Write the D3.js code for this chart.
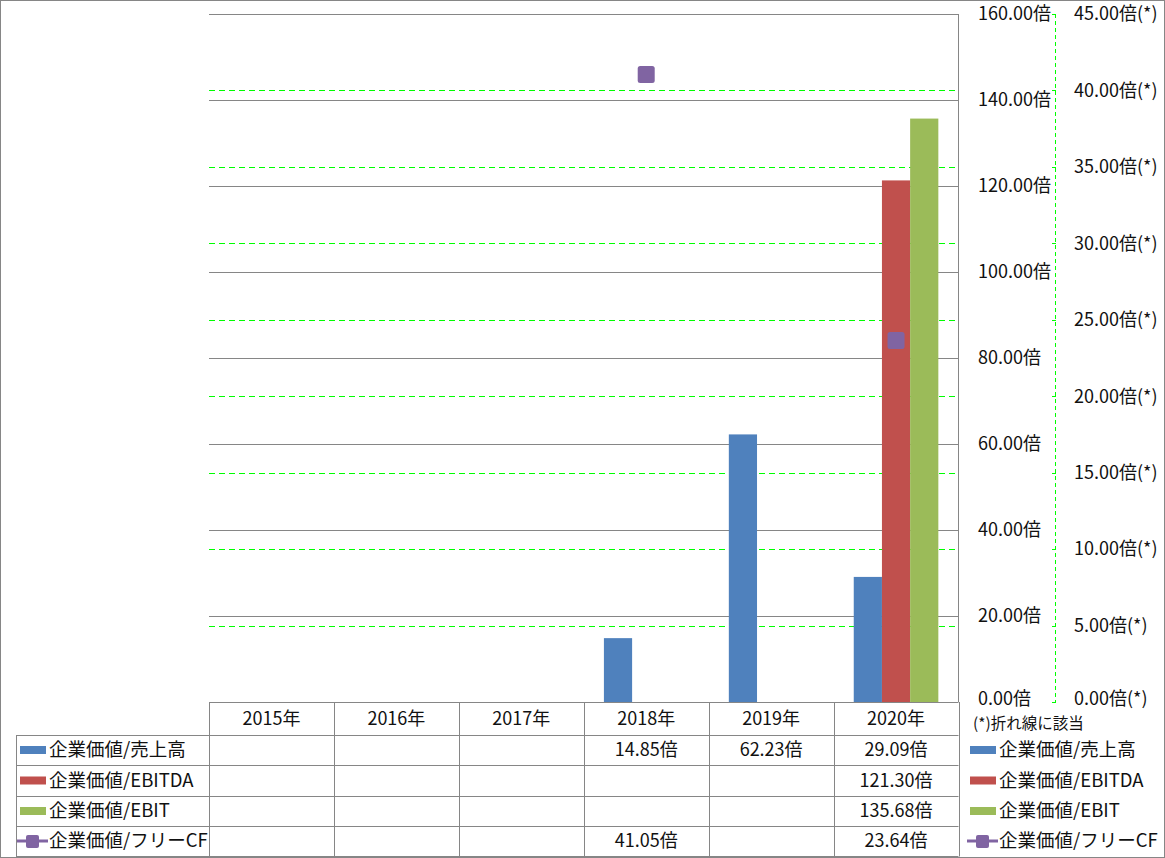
<!DOCTYPE html>
<html><head><meta charset="utf-8">
<script src="https://cdn.jsdelivr.net/npm/d3@7"></script>
<style>
html,body{margin:0;padding:0;background:#fff;}
svg text{font-family:"Noto Sans CJK JP","Noto Sans",sans-serif;fill:#111;}
</style></head>
<body>
<svg id="chart" width="1165" height="858"></svg>
<script>
const years = ["2015年","2016年","2017年","2018年","2019年","2020年"];
const seriesNames = ["企業価値/売上高","企業価値/EBITDA","企業価値/EBIT","企業価値/フリーCF"];
const salesValues = [null,null,null,14.85,62.23,29.09];
const ebitdaValues = [null,null,null,null,null,121.30];
const ebitValues = [null,null,null,null,null,135.68];
const fcfValues = [null,null,null,41.05,null,23.64];
const leftTicks = [0,20,40,60,80,100,120,140,160];
const rightTicks = [0,5,10,15,20,25,30,35,40,45];
const colors = ["#4F81BD","#C0504D","#9BBB59","#8064A2"];

const svg = d3.select("#chart");
const plotL = 209, plotR = 958.5, plotT = 14, plotB = 702;
const x = d3.scaleBand().domain(years).range([plotL, plotR]);
const barSeries = [salesValues, ebitdaValues, ebitValues];
const xi = d3.scaleBand().domain([0,1,2]).range([0, x.bandwidth()]).paddingInner(0).paddingOuter(0.715);
const yL = d3.scaleLinear().domain([0,160]).range([plotB, plotT]);
const yR = d3.scaleLinear().domain([0,45]).range([plotB, plotT]);

// outer border
svg.append("rect").attr("x",0.5).attr("y",0.5).attr("width",1164).attr("height",857)
  .attr("fill","#fff").attr("stroke","#868686");

// left gridlines (solid gray)
svg.append("g").selectAll("line").data(leftTicks.filter(d=>d>0)).join("line")
  .attr("x1",plotL).attr("x2",plotR).attr("y1",d=>Math.round(yL(d))+0.5).attr("y2",d=>Math.round(yL(d))+0.5)
  .attr("stroke","#868686").attr("stroke-width",1);

// right gridlines (green dashed)
svg.append("g").selectAll("line").data(rightTicks.filter(d=>d>0 && d<45)).join("line")
  .attr("x1",plotL).attr("x2",plotR).attr("y1",d=>Math.round(yR(d))+0.5).attr("y2",d=>Math.round(yR(d))+0.5)
  .attr("stroke","#00FF00").attr("stroke-width",1).attr("stroke-dasharray","6,4");

// bars
barSeries.forEach((vals,si)=>{
  svg.append("g").selectAll("rect").data(years.map((y,i)=>({y,v:vals[i]})).filter(d=>d.v!=null)).join("rect")
    .attr("x",d=>x(d.y)+xi(si)).attr("width",xi.bandwidth())
    .attr("y",d=>yL(d.v)).attr("height",d=>plotB-yL(d.v))
    .attr("fill",colors[si]);
});

// plot right border
svg.append("line").attr("x1",958.5).attr("x2",958.5).attr("y1",plotT).attr("y2",plotB).attr("stroke","#868686");

// left axis labels
svg.append("g").selectAll("text").data(leftTicks).join("text")
  .attr("x",978).attr("y",d=>d===0 ? yL(d)-3 : yL(d)).attr("dy","0.35em").attr("font-size",18)
  .text(d=>d3.format(".2f")(d)+"倍");

// right axis (green dashed)
svg.append("line").attr("x1",1055.5).attr("x2",1055.5).attr("y1",plotT).attr("y2",plotB)
  .attr("stroke","#00FF00").attr("stroke-dasharray","4,3");
svg.append("g").selectAll("line").data(rightTicks).join("line")
  .attr("x1",1052).attr("x2",1056).attr("y1",d=>Math.round(yR(d))+0.5).attr("y2",d=>Math.round(yR(d))+0.5)
  .attr("stroke","#00FF00");
svg.append("g").selectAll("text").data(rightTicks).join("text")
  .attr("x",1074).attr("y",d=>d===0 ? yR(d)-3 : yR(d)).attr("dy","0.35em").attr("font-size",18)
  .text(d=>d3.format(".2f")(d)+"倍(*)");

// line series markers (with gaps)
const fcfPts = years.map((y,i)=>({y,v:fcfValues[i]}));
const lineGen = d3.line().defined(d=>d.v!=null).x(d=>x(d.y)+x.bandwidth()/2).y(d=>yR(d.v));
svg.append("path").attr("d",lineGen(fcfPts)).attr("fill","none").attr("stroke",colors[3]).attr("stroke-width",3);
svg.append("g").selectAll("rect").data(fcfPts.filter(d=>d.v!=null)).join("rect")
  .attr("x",d=>x(d.y)+x.bandwidth()/2-8.5).attr("y",d=>yR(d.v)-8.5)
  .attr("width",17).attr("height",17).attr("rx",2.5)
  .attr("fill",colors[3]);

// data table
const tableRows = [salesValues, ebitdaValues, ebitValues, fcfValues];
const rowY = [702,735,765,796,826,856];
const tg = svg.append("g");
tg.append("line").attr("x1",plotL).attr("x2",958.5).attr("y1",702.5).attr("y2",702.5).attr("stroke","#868686");
for(let r=1;r<rowY.length;r++){
  tg.append("line").attr("x1",16).attr("x2",958.5).attr("y1",rowY[r]+0.5).attr("y2",rowY[r]+0.5).attr("stroke","#868686");
}
tg.append("line").attr("x1",16.5).attr("x2",16.5).attr("y1",735).attr("y2",856.5).attr("stroke","#868686");
const colEdges = years.map(y=>x(y)).concat([plotR]);
colEdges.forEach(cx=>{
  tg.append("line").attr("x1",Math.round(cx)+0.5).attr("x2",Math.round(cx)+0.5).attr("y1",702).attr("y2",856.5).attr("stroke","#868686");
});
tg.selectAll("text.hdr").data(years).join("text").attr("class","hdr")
  .attr("x",d=>x(d)+x.bandwidth()/2).attr("y",(rowY[0]+rowY[1])/2).attr("dy","0.35em")
  .attr("text-anchor","middle").attr("font-size",18).text(d=>d);
tableRows.forEach((vals,ri)=>{
  const cy = (rowY[ri+1]+rowY[ri+2])/2;
  tg.append("g").selectAll("text").data(years.map((y,i)=>({y,v:vals[i]})).filter(d=>d.v!=null)).join("text")
    .attr("x",d=>x(d.y)+x.bandwidth()/2).attr("y",cy).attr("dy","0.35em")
    .attr("text-anchor","middle").attr("font-size",18).text(d=>d3.format(".2f")(d.v)+"倍");
});

// legend entries (in table and on right)
function legendItem(g, sx, cy, si){
  if(si<3){
    g.append("rect").attr("x",sx).attr("y",cy-4).attr("width",26).attr("height",8).attr("fill",colors[si]);
  } else {
    g.append("line").attr("x1",sx-3).attr("x2",sx+28).attr("y1",cy).attr("y2",cy).attr("stroke",colors[si]).attr("stroke-width",3);
    g.append("rect").attr("x",sx+6).attr("y",cy-6).attr("width",13).attr("height",13).attr("rx",2).attr("fill",colors[si]);
  }
  g.append("text").attr("x",sx+29).attr("y",cy).attr("dy","0.35em").attr("font-size",18.5).text(seriesNames[si]);
}
seriesNames.forEach((n,si)=>{
  const cy = (rowY[si+1]+rowY[si+2])/2;
  legendItem(svg, 20, cy, si);
  legendItem(svg, 970, cy, si);
});
svg.append("text").attr("x",973).attr("y",724).attr("dy","0.35em").attr("font-size",15.5).text("(*)折れ線に該当");
</script>
</body></html>
